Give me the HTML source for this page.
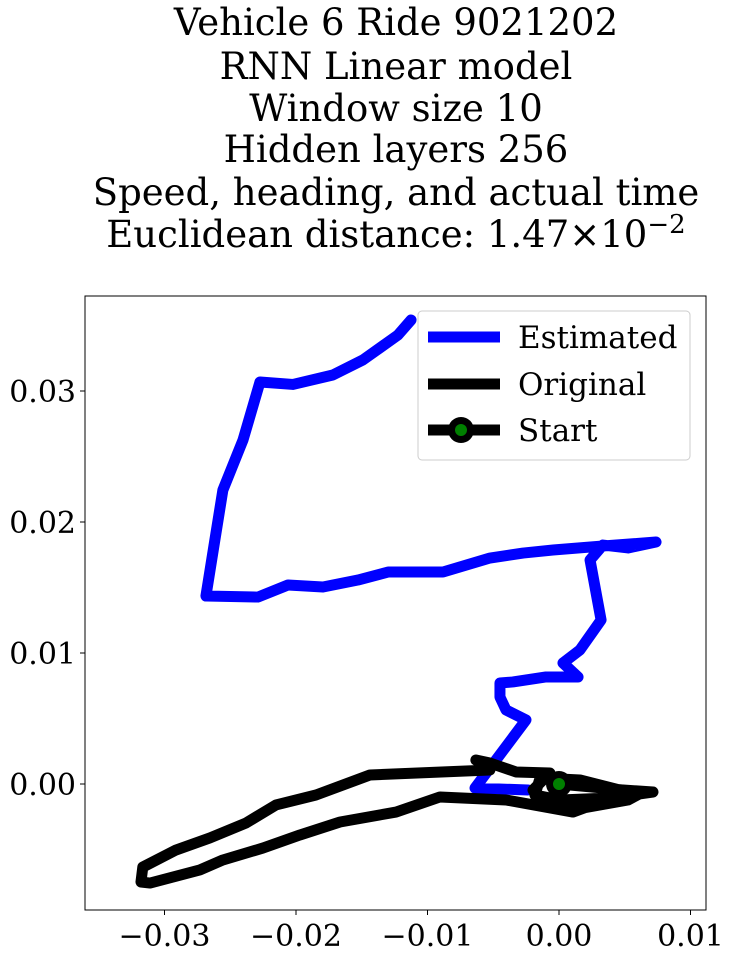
<!DOCTYPE html>
<html><head><meta charset="utf-8"><style>
body{margin:0;background:#fff;width:729px;height:958px;overflow:hidden}
svg{font-family:"DejaVu Serif","Liberation Serif",serif}
</style></head><body>
<svg id="c" width="729" height="958">
<g font-size="37" text-anchor="middle" fill="#000">
<text x="396" y="35">Vehicle 6 Ride 9021202</text>
<text x="396" y="79">RNN Linear model</text>
<text x="396" y="121">Window size 10</text>
<text x="396" y="162">Hidden layers 256</text>
<text x="396" y="205">Speed, heading, and actual time</text>
<text x="396" y="247">Euclidean distance: 1.47<tspan font-family="DejaVu Sans">×</tspan>10<tspan dy="-14" font-size="26">−2</tspan></text>
</g>
<g id="plot"></g>
<rect x="85" y="296" width="621" height="614" fill="none" stroke="#000" stroke-width="1"/>
<g id="axes" font-size="30" fill="#000"></g>
<g>
<rect x="418" y="311" width="272" height="149" rx="4" fill="#fff" fill-opacity="0.8" stroke="#ccc"/>
<line x1="428" y1="337" x2="500" y2="337" stroke="#0000ff" stroke-width="11"/>
<text x="518" y="348" font-size="31">Estimated</text>
<line x1="428" y1="384" x2="500" y2="384" stroke="#000" stroke-width="11"/>
<text x="518" y="395" font-size="31">Original</text>
<line x1="428" y1="430" x2="500" y2="430" stroke="#000" stroke-width="11"/>
<circle cx="461" cy="430" r="13" fill="#000"/>
<circle cx="461" cy="430" r="6" fill="#008000"/>
<text x="518" y="441" font-size="31">Start</text>
</g>
</svg>
<script>
const estX=[-0.00236,-0.00639,-0.00251,-0.00403,-0.00449,-0.00449,-0.0035,-0.00099,0.00145,0.0003,0.00159,0.0032,0.00236,0.00334,0.00525,0.00738,0.00334,-0.00045,-0.00273,-0.00525,-0.00882,-0.013,-0.01529,-0.01795,-0.02061,-0.02289,-0.02685,-0.02617,-0.02556,-0.02403,-0.02274,-0.02023,-0.0172,-0.01491,-0.01225,-0.01125];
const estY=[-0.00046,-0.00031,0.00489,0.00565,0.00664,0.00771,0.00779,0.00817,0.00817,0.00924,0.01023,0.01252,0.0171,0.01824,0.01802,0.01847,0.01817,0.01786,0.01763,0.01725,0.01618,0.01618,0.01557,0.01504,0.01519,0.01427,0.01435,0.01863,0.02244,0.02626,0.03069,0.0305,0.03122,0.03237,0.03427,0.03542];
const origX=[0,0.00334,0.00639,0.00525,0.00183,-0.00122,-0.00198,-0.00069,-0.00327,-0.00525,-0.00632,-0.00525,-0.01437,-0.01848,-0.02152,-0.02381,-0.02655,-0.02913,-0.03165,-0.03179,-0.0311,-0.02731,-0.02556,-0.02252,-0.0197,-0.01665,-0.01239,-0.00905,-0.00403,0.00106,0.00357,0.00487,0.00715,0.00388,0.00008,-0.00183,-0.00144,0.0016,0.00464,0.00388,0.00008];
const origY=[0,-0.00031,-0.00061,-0.00122,-0.00183,-0.0016,-0.00046,0.00084,0.00092,0.0016,0.00183,0.00107,0.00069,-0.00084,-0.0016,-0.00298,-0.00412,-0.00504,-0.00634,-0.00748,-0.00756,-0.00656,-0.0058,-0.00489,-0.00389,-0.0029,-0.00214,-0.00099,-0.00122,-0.00214,-0.00122,-0.00046,-0.00061,-0.00107,-0.00122,-0.00084,0.00046,0.00031,-0.00046,-0.00137,-0.00168];
const startPt=[0,0];
const xTicks=[-0.03,-0.02,-0.01,0,0.01];
const xTickLabels=["−0.03","−0.02","−0.01","0.00","0.01"];
const yTicks=[0,0.01,0.02,0.03];
const yTickLabels=["0.00","0.01","0.02","0.03"];
const sx=v=>559+v*13150, sy=v=>784-v*13100;
const NS="http://www.w3.org/2000/svg";
const plot=document.getElementById('plot'), axes=document.getElementById('axes');
function line(xs,ys,color,name){
  const p=document.createElementNS(NS,'polyline');
  p.setAttribute('points',xs.map((x,i)=>sx(x)+','+sy(ys[i])).join(' '));
  p.setAttribute('fill','none');p.setAttribute('stroke',color);p.setAttribute('stroke-width','11');
  p.setAttribute('stroke-linejoin','round');p.setAttribute('stroke-linecap','round');
  
  
  plot.appendChild(p);
}
line(estX,estY,'#0000ff','estimated-line');
line(origX,origY,'#000','original-line');
const c1=document.createElementNS(NS,'circle');
c1.setAttribute('cx',sx(startPt[0]));c1.setAttribute('cy',sy(startPt[1]));c1.setAttribute('r','13');c1.setAttribute('fill','#000');


plot.appendChild(c1);
const c2=document.createElementNS(NS,'circle');
c2.setAttribute('cx',sx(startPt[0]));c2.setAttribute('cy',sy(startPt[1]));c2.setAttribute('r','6');c2.setAttribute('fill','#008000');


plot.appendChild(c2);
xTicks.forEach((v,i)=>{
  const l=document.createElementNS(NS,'line');
  l.setAttribute('x1',sx(v));l.setAttribute('x2',sx(v));l.setAttribute('y1',910);l.setAttribute('y2',915);l.setAttribute('stroke','#000');
  
  
  axes.appendChild(l);
  const t=document.createElementNS(NS,'text');
  t.setAttribute('x',sx(v));t.setAttribute('y',946);t.setAttribute('text-anchor','middle');
  t.textContent=xTickLabels[i];
  
  
  axes.appendChild(t);
});
yTicks.forEach((v,i)=>{
  const l=document.createElementNS(NS,'line');
  l.setAttribute('x1',80);l.setAttribute('x2',85);l.setAttribute('y1',sy(v));l.setAttribute('y2',sy(v));l.setAttribute('stroke','#000');
  
  
  axes.appendChild(l);
  const t=document.createElementNS(NS,'text');
  t.setAttribute('x',76);t.setAttribute('y',sy(v)+11);t.setAttribute('text-anchor','end');
  t.textContent=yTickLabels[i];
  
  
  axes.appendChild(t);
});
</script>
</body></html>
